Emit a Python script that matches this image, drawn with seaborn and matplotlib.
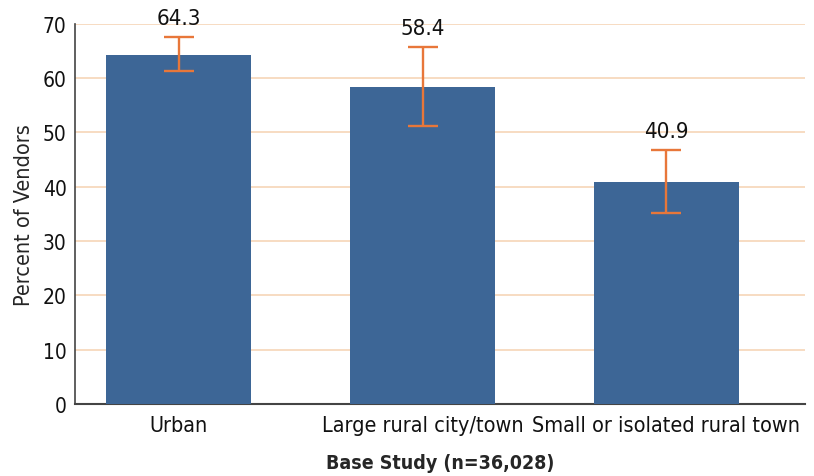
import numpy as np
import matplotlib.pyplot as plt
import seaborn as sns
import pandas as pd

# data
categories = ["Urban", "Large rural city/town", "Small or isolated rural town"]
percent = [64.3, 58.4, 40.9]
ci_low = [61.3, 51.2, 35.2]
ci_high = [67.6, 65.7, 46.8]
y_ticks = [0, 10, 20, 30, 40, 50, 60, 70]

bar_color = "#3d6696"
err_color = "#e8773a"
grid_color = "#f6d5b8"

sns.set_theme(style="white")
plt.rcParams['font.family'] = ['DejaVu Sans']
plt.rcParams['font.stretch'] = 'condensed'

df = pd.DataFrame({"area": categories, "pct": percent})

fig = plt.figure(figsize=(8.14, 4.77), dpi=100)
ax = fig.add_axes([0.092, 0.151, 0.897, 0.797])

sns.barplot(data=df, x="area", y="pct", color=bar_color, saturation=1, width=0.595,
            linewidth=0, ax=ax, zorder=3)

# error bars
x_pos = np.arange(len(categories))
lower = np.array(percent) - np.array(ci_low)
upper = np.array(ci_high) - np.array(percent)
ax.errorbar(x_pos, percent, yerr=[lower, upper], fmt="none", ecolor=err_color,
            elinewidth=1.7, capsize=10.5, capthick=1.7, zorder=4)

# value labels over the error bars
for x, v, hi in zip(x_pos, percent, ci_high):
    ax.text(x, hi + 1.6, f"{v}", ha="center", va="bottom", fontsize=16,
            color="#111111", clip_on=False, zorder=5)

ax.set_ylim(0, 70)
ax.set_xlim(-0.427, 2.57)
ax.set_yticks(y_ticks)
ax.yaxis.grid(True, color=grid_color, linewidth=1.2, zorder=0)
ax.set_axisbelow(True)

for s in ["top", "right"]:
    ax.spines[s].set_visible(False)
ax.spines["left"].set_color("#444444")
ax.spines["bottom"].set_color("#444444")
ax.spines["left"].set_linewidth(1.2)
ax.spines["bottom"].set_linewidth(1.5)

ax.tick_params(axis="y", labelsize=15, length=0, pad=6, colors="#111111")
ax.tick_params(axis="x", labelsize=15.5, length=0, pad=8, colors="#111111")

ax.set_xlabel("Base Study (n=36,028)", fontsize=14, fontweight="bold", labelpad=13)
ax.set_ylabel("Percent of Vendors", fontsize=15.5, labelpad=6)

plt.savefig("out.png", dpi=100)
